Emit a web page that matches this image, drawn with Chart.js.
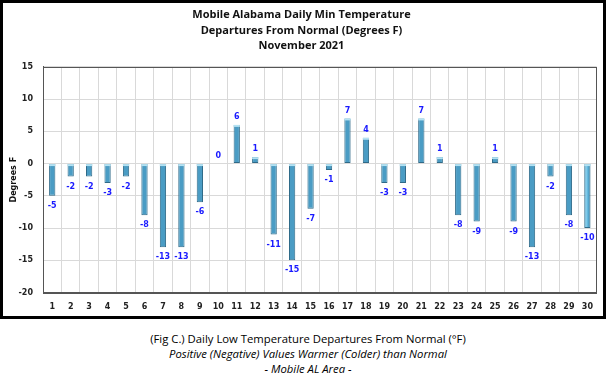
<!DOCTYPE html>
<html><head><meta charset="utf-8">
<script src="https://cdn.jsdelivr.net/npm/chart.js@4"></script>
<style>
html,body{margin:0;padding:0;background:#fff;}
#frame{position:absolute;left:0;top:0;width:606px;height:319px;border:3px solid #000;box-sizing:border-box;background:#fff;}
#wrap{position:absolute;left:0;top:0;width:600px;height:313px;}
#cap{position:absolute;left:0;top:331px;width:616px;text-align:center;font-family:"Open Sans",sans-serif;font-size:11.3px;line-height:15px;color:#000;}
#cap .i{font-style:italic;}
</style></head><body>
<div id="frame"><div id="wrap"><canvas id="c" width="600" height="313"></canvas></div></div>
<div id="cap"><div>(Fig C.) Daily Low Temperature Departures From Normal (°F)</div><div class="i">Positive (Negative) Values Warmer (Colder) than Normal</div><div class="i">- Mobile AL Area -</div></div>
<script>
const days = ["1","2","3","4","5","6","7","8","9","10","11","12","13","14","15","16","17","18","19","20","21","22","23","24","25","26","27","28","29","30"];
const departures = [-5,-2,-2,-3,-2,-8,-13,-13,-6,0,6,1,-11,-15,-7,-1,7,4,-3,-3,7,1,-8,-9,1,-9,-13,-2,-8,-10];
const titleLines = ["Mobile Alabama Daily Min Temperature","Departures From Normal (Degrees F)","November 2021"];
const yTitle = "Degrees F";

const shadePlugin = {
  id:'shade',
  beforeDatasetsDraw(chart){
    const ctx = chart.ctx;
    chart.getDatasetMeta(0).data.forEach(el=>{
      const l = el.x - el.width/2, r = el.x + el.width/2;
      const g = ctx.createLinearGradient(l,0,r,0);
      g.addColorStop(0,'#4a9cc4');
      g.addColorStop(0.35,'#80cbea');
      g.addColorStop(0.65,'#55abd3');
      g.addColorStop(1,'#2a6788');
      el.options.backgroundColor = g;
    });
  },
  afterDatasetsDraw(chart){
    const ctx = chart.ctx;
    ctx.save();
    ctx.fillStyle = '#b4e2f3';
    chart.getDatasetMeta(0).data.forEach((el,i)=>{
      if (departures[i] === 0) return;
      const l = el.x - el.width/2;
      const top = Math.min(el.y, el.base);
      ctx.fillRect(l, top, el.width, 2);
    });
    ctx.restore();
  }
};
const labelPlugin = {
  id:'vals',
  afterDatasetsDraw(chart){
    const ctx = chart.ctx;
    const meta = chart.getDatasetMeta(0);
    ctx.save();
    ctx.font = 'bold 8px "DejaVu Sans", sans-serif';
    ctx.fillStyle = '#1a1aff';
    ctx.textAlign = 'center';
    ctx.textBaseline = 'middle';
    meta.data.forEach((el,i)=>{
      const v = departures[i];
      const y = v >= 0 ? el.y - 8 : el.y + 10;
      ctx.fillText(String(v), el.x, y);
    });
    ctx.restore();
  }
};
const boxPlugin = {
  id:'box',
  afterDraw(chart){
    const a = chart.chartArea, ctx = chart.ctx;
    ctx.save();
    ctx.strokeStyle = '#555';
    ctx.lineWidth = 1;
    ctx.strokeRect(Math.round(a.left)+0.5, Math.round(a.top)+0.5, Math.round(a.right-a.left)-1, Math.round(a.bottom-a.top));
    ctx.restore();
  }
};

new Chart(document.getElementById('c'), {
  type:'bar',
  data:{labels:days, datasets:[{data:departures, backgroundColor:'#4ea6d0', borderColor:'#2f6a88', borderWidth:1, borderSkipped:false, categoryPercentage:1, barPercentage:0.34}]},
  plugins:[shadePlugin, labelPlugin, boxPlugin],
  options:{
    responsive:false, animation:false,
    layout:{padding:{left:0,right:3,top:0,bottom:0}},
    plugins:{
      legend:{display:false}, tooltip:{enabled:false},
      title:{display:true, text:titleLines, color:'#111', font:{family:'"Open Sans", sans-serif', size:11, weight:'bold', lineHeight:1.42}, padding:{top:4,bottom:13}}
    },
    scales:{
      x:{
        grid:{color:'#d9d9d9', drawTicks:false, offset:true},
        border:{color:'#555'},
        ticks:{color:'#222', font:{family:'"DejaVu Sans", sans-serif', size:8, weight:'bold'}, padding:10, maxRotation:0, autoSkip:false},
        afterFit(s){ s.height = 23.5; }
      },
      y:{
        min:-20, max:15,
        grid:{color:'#d9d9d9', drawTicks:false},
        border:{color:'#555'},
        ticks:{stepSize:5, color:'#222', font:{family:'"DejaVu Sans", sans-serif', size:8, weight:'bold'}, padding:10},
        title:{display:true, text:yTitle, color:'#111', font:{family:'"DejaVu Sans", sans-serif', size:8, weight:'bold'}, padding:{top:6,bottom:0}},
        afterFit(s){ s.width = 40; }
      }
    }
  }
});
</script>
</body></html>
